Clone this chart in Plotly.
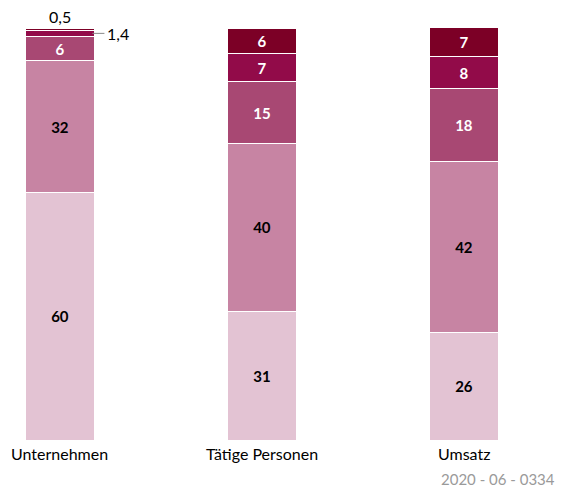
import plotly.graph_objects as go

categories = ["Unternehmen", "Tätige Personen", "Umsatz"]
# segment values (bottom to top) per category
seg1 = [60.0, 31.3, 26.0]
seg2 = [32.0, 40.6, 41.7]
seg3 = [6.0, 15.1, 17.5]
seg4 = [1.4, 6.7, 7.9]
seg5 = [0.5, 6.3, 7.0]
# printed labels
lab1 = ["60", "31", "26"]
lab2 = ["32", "40", "42"]
lab3 = ["6", "15", "18"]
lab4 = ["", "7", "8"]
lab5 = ["", "6", "7"]
small_labels = ["1,4", "0,5"]
source = "2020 - 06 - 0334"

colors = ["#E3C3D3", "#C784A3", "#A84873", "#920B49", "#7C0026"]
text_colors = ["#000000", "#000000", "#FFFFFF", "#FFFFFF", "#FFFFFF"]
FONT = "Lato"

xs = [0, 1, 2]
fig = go.Figure()
for vals, labs, col, tcol in zip([seg1, seg2, seg3, seg4, seg5],
                                 [lab1, lab2, lab3, lab4, lab5],
                                 colors, text_colors):
    fig.add_trace(go.Bar(
        x=xs, y=vals, width=0.345, marker=dict(color=col, line=dict(color="white", width=1)),
        text=labs, textposition="inside", insidetextanchor="middle", textangle=0,
        insidetextfont=dict(color=tcol, size=15, family=FONT, weight="bold"),
        hoverinfo="skip",
    ))

# category labels below bars
for x, c in zip(xs, categories):
    fig.add_annotation(x=x, y=0, xref="x", yref="y", text=c, showarrow=False,
                       yanchor="middle", yshift=-13,
                       font=dict(size=16, family=FONT, color="#000000"))

# small value labels for Unternehmen
top_u = seg1[0] + seg2[0] + seg3[0] + seg4[0] + seg5[0]
mid4 = seg1[0] + seg2[0] + seg3[0] + seg4[0] / 2
fig.add_annotation(x=0, y=top_u, xref="x", yref="y", text=small_labels[1], showarrow=False,
                   yanchor="bottom", yshift=0, font=dict(size=16, family=FONT, color="#000000"))
fig.add_shape(type="line", xref="x", yref="y", x0=0.16, x1=0.22, y0=mid4, y1=mid4,
              line=dict(color="#888888", width=1))
fig.add_annotation(x=0.22, y=mid4, xref="x", yref="y", text=small_labels[0], showarrow=False,
                   xanchor="left", xshift=1, font=dict(size=16, family=FONT, color="#000000"))

fig.add_annotation(x=1, y=0, xref="paper", yref="paper", text=source, showarrow=False,
                   xanchor="right", yanchor="middle", xshift=-10, yshift=-39,
                   font=dict(size=15, family=FONT, color="#9A9A9A"))

# page body has an 8px margin, so the figure is sized to fit the window
fig.update_layout(
    barmode="stack", showlegend=False, width=559, height=481,
    margin=dict(l=0, r=0, t=20, b=49),
    plot_bgcolor="white", paper_bgcolor="white",
    xaxis=dict(range=[-0.2574, 2.51], showticklabels=False, showgrid=False, zeroline=False,
               showline=False, ticks=""),
    yaxis=dict(range=[0, 100], visible=False),
    uniformtext=dict(minsize=15, mode="show"),
    font=dict(family=FONT),
)
fig.write_html("out.html")
